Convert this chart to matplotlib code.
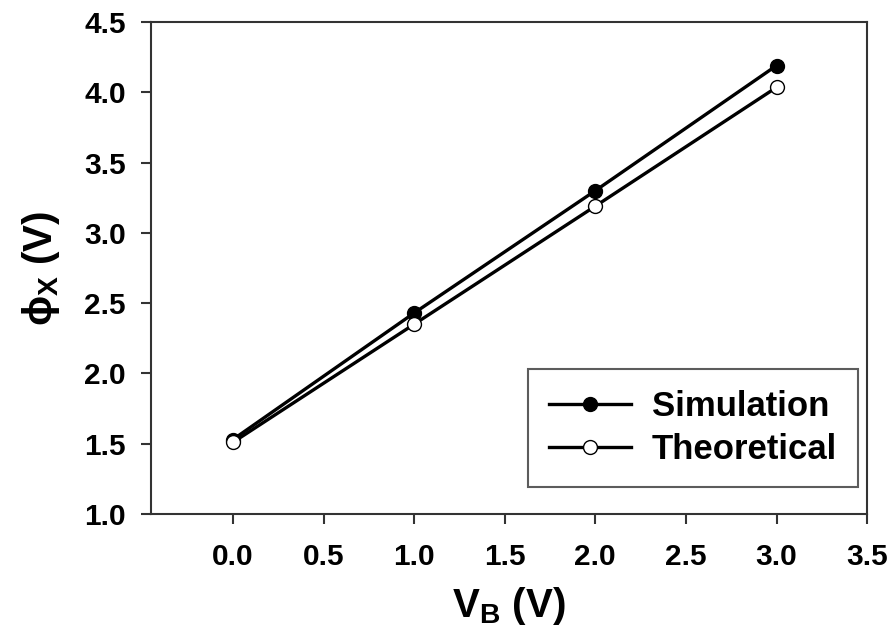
import matplotlib
matplotlib.use('Agg')
import matplotlib.pyplot as plt

# data
vb = [0.0, 1.0, 2.0, 3.0]
phi_sim = [1.53, 2.43, 3.30, 4.19]
phi_theory = [1.51, 2.35, 3.19, 4.035]
xticks = [0.0, 0.5, 1.0, 1.5, 2.0, 2.5, 3.0, 3.5]
yticks = [1.0, 1.5, 2.0, 2.5, 3.0, 3.5, 4.0, 4.5]

plt.rcParams['font.family'] = ['Liberation Sans', 'DejaVu Sans']
plt.rcParams['font.weight'] = 'bold'
plt.rcParams['mathtext.fontset'] = 'custom'
plt.rcParams['mathtext.rm'] = 'Liberation Sans:bold'
plt.rcParams['mathtext.it'] = 'Liberation Sans:bold'
plt.rcParams['mathtext.bf'] = 'Liberation Sans:bold'

fig = plt.figure(figsize=(8.93, 6.37), dpi=100)
ax = fig.add_axes([0.169, 0.193, 0.802, 0.7725])

ax.plot(vb, phi_sim, '-o', color='black', lw=2.4, ms=10,
        mfc='black', mec='black', mew=1, label='Simulation', zorder=3)
ax.plot(vb, phi_theory, '-o', color='black', lw=2.4, ms=10,
        mfc='white', mec='black', mew=1, label='Theoretical', zorder=3)

ax.set_xlim(-0.4525, 3.5)
ax.set_ylim(1.0, 4.5)
ax.set_xticks(xticks)
ax.set_yticks(yticks)
ax.set_xticklabels([f'{t:.1f}' for t in xticks])
ax.set_yticklabels([f'{t:.1f}' for t in yticks])

for s in ax.spines.values():
    s.set_linewidth(1.5)
    s.set_color('#333333')
ax.tick_params(axis='both', direction='out', length=7, width=1.5,
               color='#333333', labelsize=21.5)
ax.tick_params(axis='x', pad=14)
ax.tick_params(axis='y', pad=11)

ax.set_xlabel(r'V$_{\mathrm{B}}$ (V)', fontsize=29, fontweight='bold', labelpad=10)
ax.set_ylabel(r'$\phi_{\mathrm{X}}$ (V)', fontsize=29, fontweight='bold', labelpad=16)

leg = ax.legend(loc='lower right', bbox_to_anchor=(0.987, 0.055), borderaxespad=0,
                fancybox=False, frameon=True, fontsize=25, handlelength=2.35,
                handletextpad=0.6, labelspacing=0.3, borderpad=0.6)
leg.get_frame().set_edgecolor('#333333')
leg.get_frame().set_linewidth(1.5)

plt.savefig('out.png', dpi=100)
